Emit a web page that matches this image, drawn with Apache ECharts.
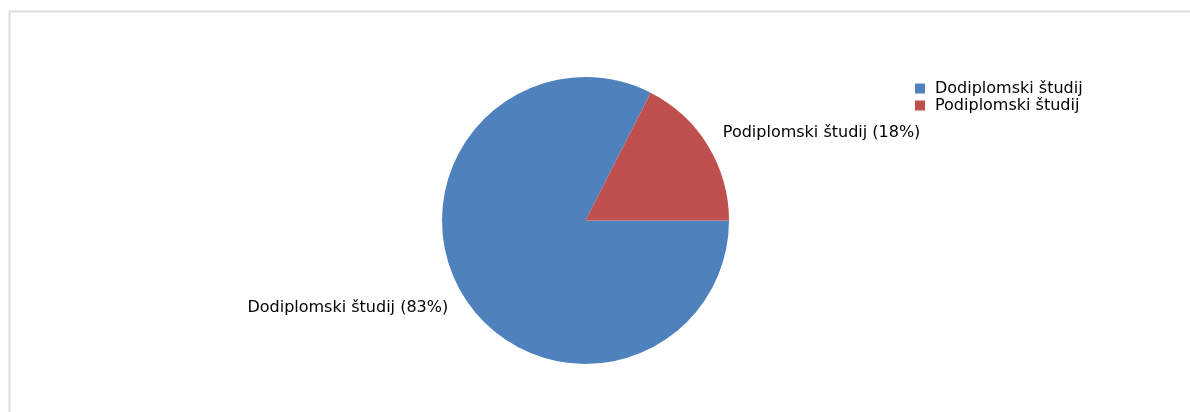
<!DOCTYPE html>
<html>
<head>
<meta charset="utf-8">
<script src="https://cdn.jsdelivr.net/npm/echarts@6/dist/echarts.min.js"></script>
<style>
html,body{margin:0;padding:0;background:#fff;}
#chart{width:1190px;height:412px;}
</style>
</head>
<body>
<div id="chart"></div>
<script>
const categories = ['Dodiplomski študij', 'Podiplomski študij'];
const values = [33, 7];
const colors = ['#4F81BD', '#C0504D'];

const total = values.reduce((a, b) => a + b, 0);
const FONT = 'DejaVu Sans, Verdana, sans-serif';

const chart = echarts.init(document.getElementById('chart'), null, {renderer: 'canvas'});
chart.setOption({
  animation: false,
  backgroundColor: '#ffffff',
  graphic: [{
    type: 'rect',
    left: 7, top: 9,
    shape: {x: 0, y: 0, width: 1200, height: 420},
    style: {fill: 'none', stroke: '#dedede', lineWidth: 2},
    silent: true
  }],
  legend: {
    orient: 'vertical',
    left: 915,
    top: 80.5,
    padding: 0,
    itemWidth: 10,
    itemHeight: 10,
    itemGap: 1,
    itemTextGap: 10,
    icon: 'rect',
    data: categories,
    textStyle: {fontFamily: FONT, fontSize: 16, color: '#000', lineHeight: 16, padding: [0, 0, 0, 5]}
  },
  series: [{
    type: 'pie',
    center: [585.5, 220.5],
    radius: [0, 143.5],
    startAngle: 0,
    clockwise: true,
    avoidLabelOverlap: false,
    silent: true,
    data: categories.map((c, i) => ({name: c, value: values[i], itemStyle: {color: colors[i]}})),
    label: {
      show: true,
      position: 'outside',
      fontFamily: FONT,
      fontSize: 16,
      color: '#000',
      distanceToLabelLine: -5.5,
      formatter: p => p.name + ' (' + Math.round(p.value / total * 100) + '%)'
    },
    labelLine: {show: false, length: 24, length2: 0}
  }]
});
</script>
</body>
</html>
